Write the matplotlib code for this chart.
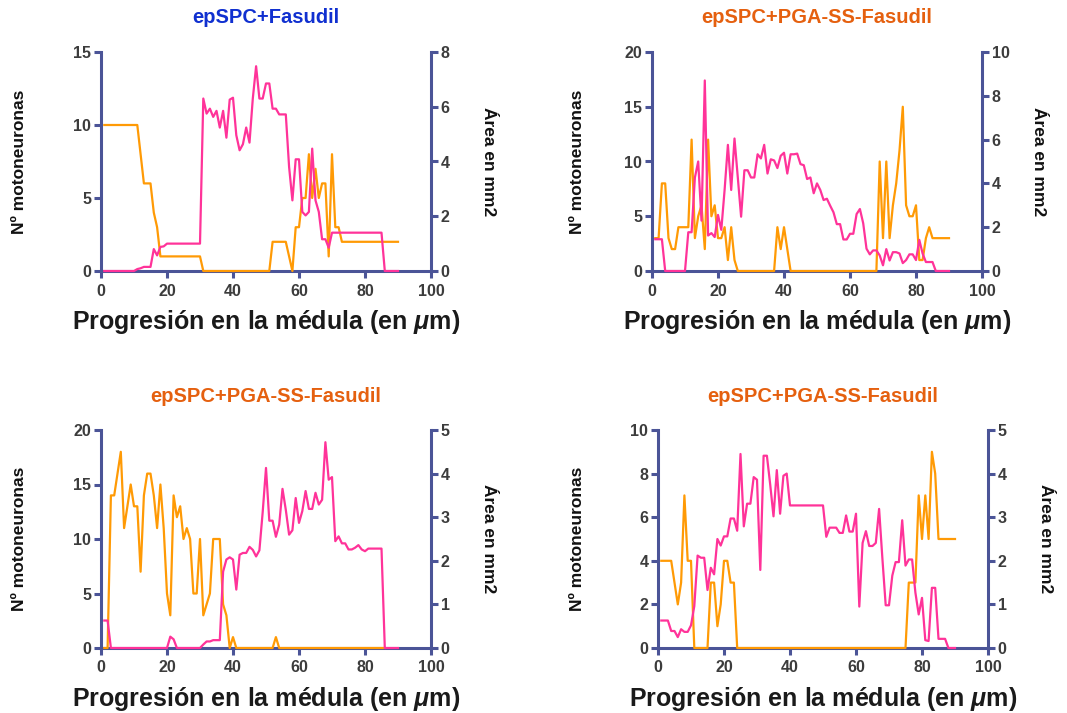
import numpy as np
import matplotlib
matplotlib.use("Agg")
import matplotlib.pyplot as plt

plt.rcParams['font.family'] = ['Liberation Sans', 'DejaVu Sans']
plt.rcParams['mathtext.fontset'] = 'custom'
plt.rcParams['mathtext.it'] = 'Liberation Sans:bold:italic'
plt.rcParams['mathtext.rm'] = 'Liberation Sans:bold'
plt.rcParams['mathtext.bf'] = 'Liberation Sans:bold'

# ---------------- data ----------------
titles = ["epSPC+Fasudil", "epSPC+PGA-SS-Fasudil", "epSPC+PGA-SS-Fasudil", "epSPC+PGA-SS-Fasudil"]
title_colors = ["#1030D0", "#E5600F", "#E5600F", "#E5600F"]
left_max = [15, 20, 20, 10]
left_ticks = [[0, 5, 10, 15], [0, 5, 10, 15, 20], [0, 5, 10, 15, 20], [0, 2, 4, 6, 8, 10]]
right_max = [8, 10, 5, 5]
right_ticks = [[0, 2, 4, 6, 8], [0, 2, 4, 6, 8, 10], [0, 1, 2, 3, 4, 5], [0, 1, 2, 3, 4, 5]]
x_ticks = [0, 20, 40, 60, 80, 100]

x_all = list(range(1, 91))
x_p3_orange = list(range(1, 87))

# panel 1 (motoneurons / area)
p1_moto = [10, 10, 10, 10, 10, 10, 10, 10, 10, 10, 10,
           8, 6, 6, 6, 4, 3, 1, 1, 1, 1, 1, 1, 1, 1, 1, 1, 1, 1, 1,
           0, 0, 0, 0, 0, 0, 0, 0, 0, 0, 0, 0, 0, 0, 0, 0, 0, 0, 0, 0, 0,
           2, 2, 2, 2, 2, 1, 0, 3, 3, 5, 5, 8, 5, 7, 5, 6, 6, 1, 8, 3, 3,
           2, 2, 2, 2, 2, 2, 2, 2, 2, 2, 2, 2, 2, 2, 2, 2, 2, 2]
p1_area = [0, 0, 0, 0, 0, 0, 0, 0, 0, 0,
           0.07, 0.1, 0.15, 0.15, 0.15, 0.8, 0.57, 0.88, 0.9, 1.0,
           1.0, 1.0, 1.0, 1.0, 1.0, 1.0, 1.0, 1.0, 1.0, 1.0,
           6.3, 5.75, 5.93, 5.63, 5.85, 5.24, 5.85, 4.87, 6.26, 6.33,
           4.96, 4.41, 4.63, 5.24, 4.69, 6.3, 7.48, 6.3, 6.3, 6.85,
           6.85, 5.93, 5.93, 5.72, 5.72, 5.72, 3.8, 2.58, 4.08, 4.08,
           2.16, 2.03, 2.16, 4.47, 2.58, 2.16, 1.16, 1.16, 0.85, 1.4,
           1.4, 1.4, 1.4, 1.4, 1.4, 1.4, 1.4, 1.4, 1.4, 1.4, 1.4, 1.4, 1.4, 1.4, 1.4,
           0, 0, 0, 0, 0]

# panel 2
p2_moto = [3, 3, 8, 8, 3, 2, 2, 4, 4, 4, 4, 12, 3, 5, 6, 2, 12, 5, 6, 3, 3, 4, 1, 4, 1, 0,
           0, 0, 0, 0, 0, 0, 0, 0, 0, 0, 0,
           4, 2, 4, 2,
           0, 0, 0, 0, 0, 0, 0, 0, 0, 0, 0, 0, 0, 0, 0, 0, 0, 0, 0, 0, 0, 0, 0, 0, 0, 0, 0,
           10, 3, 10, 3, 6, 8, 11, 15, 6, 5, 5, 6, 1, 1, 3, 4,
           3, 3, 3, 3, 3, 3]
p2_area = [1.45, 1.45, 1.45, 0, 0, 0, 0, 0, 0, 0,
           1.77, 1.77, 4.27, 5.0, 2.3, 8.7, 1.62, 1.73, 1.55, 2.56,
           1.88, 3.7, 5.76, 3.7, 6.05, 4.27, 2.48, 4.6, 4.6, 4.27,
           4.27, 5.33, 5.14, 5.76, 4.45, 5.1, 5.05, 4.7, 5.26, 5.4,
           4.45, 5.33, 5.33, 5.36, 4.88, 4.83, 4.2, 4.27, 3.55, 4.0,
           3.7, 3.24, 3.3, 2.98, 2.68, 2.14, 2.14, 1.44, 1.44, 1.7,
           1.7, 2.6, 2.83, 2.18, 1.02, 0.76, 0.94, 0.94, 0.71, 0.26,
           1.0, 0.48, 0.86, 0.86, 0.8, 0.36, 0.5, 0.76, 0.76, 0.5,
           1.42, 0.8, 0.41, 0.41, 0.41, 0, 0, 0, 0, 0]

# panel 3
p3_moto = [0, 0, 14, 14, 16, 18, 11, 13, 15, 13, 13, 7, 14, 16, 16, 14, 11, 15, 11, 5,
           3, 14, 12, 13, 10, 11, 10, 5, 5, 10, 3, 4, 5, 10, 10, 10, 4, 3, 0, 1, 0,
           0, 0, 0, 0, 0, 0, 0, 0, 0, 0, 0,
           1,
           0, 0, 0, 0, 0, 0, 0, 0, 0, 0, 0, 0, 0, 0, 0, 0, 0, 0, 0, 0, 0, 0, 0, 0, 0, 0, 0, 0, 0, 0, 0, 0, 0]
p3_area = [0.63, 0.63,
           0, 0, 0, 0, 0, 0, 0, 0, 0, 0, 0, 0, 0, 0, 0, 0, 0, 0,
           0.26, 0.2,
           0, 0, 0, 0, 0, 0, 0, 0,
           0.08, 0.15, 0.15, 0.18, 0.18, 0.18, 1.75, 2.03, 2.08, 2.03,
           1.34, 2.14, 2.18, 2.18, 2.32, 2.25, 2.1, 2.24, 3.12, 4.13,
           2.92, 2.92, 2.55, 2.83, 3.65, 3.17, 2.6, 2.7, 3.44, 2.87,
           3.14, 3.6, 3.19, 3.19, 3.56, 3.29, 3.4, 4.72, 3.86, 3.92,
           2.45, 2.56, 2.4, 2.4, 2.26, 2.26, 2.3, 2.36, 2.26, 2.22,
           2.28, 2.28, 2.28, 2.28, 2.28,
           0, 0, 0, 0, 0]

# panel 4
p4_moto = [4, 4, 4, 4, 3, 2, 3, 7, 4, 4,
           0, 0, 0, 0, 0,
           3, 3, 1, 2, 4, 4, 3, 3,
           0, 0, 0, 0, 0, 0, 0, 0, 0, 0, 0, 0, 0, 0, 0, 0, 0, 0, 0, 0, 0, 0, 0, 0, 0, 0,
           0, 0, 0, 0, 0, 0, 0, 0, 0, 0, 0, 0, 0, 0, 0, 0, 0, 0, 0, 0, 0, 0, 0, 0, 0, 0,
           3, 3, 3, 7, 5, 7, 5, 9, 8,
           5, 5, 5, 5, 5, 5]
p4_area = [0.63, 0.63, 0.63, 0.39, 0.39, 0.25, 0.43, 0.37, 0.37, 0.52,
           0.96, 2.12, 2.07, 2.07, 1.33, 1.84, 1.69, 2.5, 2.35, 2.56,
           2.56, 2.97, 2.97, 2.69, 4.45, 2.79, 3.31, 3.31, 3.92, 3.86,
           1.79, 4.41, 4.41, 3.75, 3.02, 4.08, 3.08, 3.95, 4.0, 3.27,
           3.27, 3.27, 3.27, 3.27, 3.27, 3.27, 3.27, 3.27, 3.27, 3.27,
           2.55, 2.76, 2.76, 2.76, 2.64, 2.64, 3.04, 2.67, 2.67, 3.08,
           0.95, 2.41, 2.68, 2.34, 2.34, 2.41, 3.19, 2.05, 0.98, 0.98,
           1.66, 1.97, 1.97, 2.93, 1.89, 2.03, 2.03, 1.27, 0.77, 1.15,
           0.18, 0.16, 1.38, 1.38, 0.21, 0.21, 0.21, 0, 0, 0]

moto_x = [x_all, x_all, x_p3_orange, x_all]
moto_y = [p1_moto, p2_moto, p3_moto, p4_moto]
area_y = [p1_area, p2_area, p3_area, p4_area]

# ---------------- style ----------------
W, H = 1067, 713
AX_C = "#4B5497"
TXT_C = "#3C3C3C"
ORANGE = "#FF9A05"
PINK = "#FF3399"

# axes boxes in pixels: left, right, top, bottom
boxes = [(101, 431, 52, 271), (652, 982, 52, 271), (101, 431, 430, 648), (658, 988, 430, 648)]
left_lab_off = [81, 75, 81, 81]
right_lab_off = [57, 57, 57, 57]

fig = plt.figure(figsize=(W / 100, H / 100), dpi=100)

for i in range(4):
    l, r, t, b = boxes[i]
    ax = fig.add_axes([l / W, 1 - b / H, (r - l) / W, (b - t) / H])
    ax2 = ax.twinx()

    ax.plot(moto_x[i], moto_y[i], color=ORANGE, lw=1.6, zorder=3, clip_on=False)
    ax2.plot(x_all, area_y[i], color=PINK, lw=1.6, zorder=3, clip_on=False)

    ax.set_xlim(0, 100)
    ax.set_ylim(0, left_max[i])
    ax2.set_ylim(0, right_max[i])
    ax.set_xticks(x_ticks)
    ax.set_yticks(left_ticks[i])
    ax2.set_yticks(right_ticks[i])

    for s in ['top', 'right']:
        ax.spines[s].set_visible(False)
    for s in ['top', 'left', 'bottom']:
        ax2.spines[s].set_visible(False)
    for s in ['left', 'bottom']:
        ax.spines[s].set_color(AX_C)
        ax.spines[s].set_linewidth(2.2)
    ax2.spines['right'].set_color(AX_C)
    ax2.spines['right'].set_linewidth(2.2)
    ax.patch.set_visible(False)

    ax.tick_params(axis='y', direction='out', length=5, width=2.2, color=AX_C,
                   labelcolor=TXT_C, labelsize=11.5, pad=2)
    ax.tick_params(axis='x', direction='out', length=5, width=2.2, color=AX_C,
                   labelcolor=TXT_C, labelsize=11.5, pad=4)
    ax2.tick_params(axis='y', direction='out', length=5, width=2.2, color=AX_C,
                    labelcolor=TXT_C, labelsize=11.5, pad=2)
    for lab in ax.get_xticklabels() + ax.get_yticklabels() + ax2.get_yticklabels():
        lab.set_fontweight('bold')

    ax.set_ylabel("Nº motoneuronas", fontsize=12.5, fontweight='bold', color='#111111', va='center')
    ax.yaxis.set_label_coords(-left_lab_off[i] / (r - l), 0.5)
    ax2.set_ylabel("Área en mm2", fontsize=12.5, fontweight='bold', color='#111111',
                   rotation=270, va='center')
    ax2.yaxis.set_label_coords(1 + right_lab_off[i] / (r - l), 0.5)

    ax.set_xlabel(r"Progresión en la médula (en $\mathit{\mu}$m)", fontsize=18,
                  fontweight='bold', color='#1A1A1A', va='center')
    ax.xaxis.set_label_coords(0.5, -51 / (b - t))

    ax.set_title(titles[i], color=title_colors[i], fontsize=14.5, fontweight='bold',
                 y=1 + 34 / (b - t), va='center', pad=0)

fig.savefig("out.png", dpi=100)
